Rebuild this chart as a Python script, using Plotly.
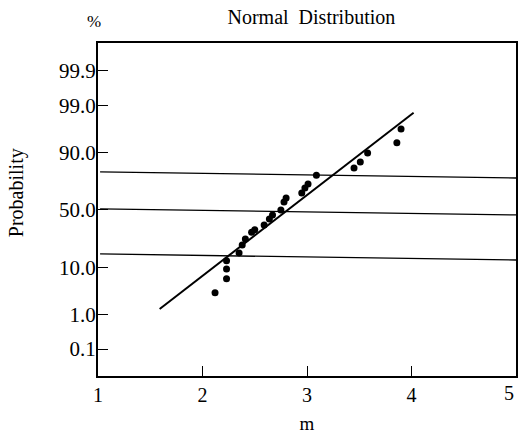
from statistics import NormalDist
import plotly.graph_objects as go

# ---- data ----
m_values = [2.12, 2.23, 2.23, 2.23, 2.35, 2.38, 2.41, 2.47, 2.50, 2.59, 2.64, 2.67,
            2.75, 2.78, 2.80, 2.95, 2.98, 3.01, 3.09, 3.45, 3.51, 3.58, 3.86, 3.90]
prob_pct = [3.3, 6.3, 9.5, 12.9, 17.0, 21.8, 26.0, 31.0, 33.0, 37.0, 42.0, 45.6,
            50.0, 57.0, 60.5, 64.7, 68.8, 71.8, 78.0, 82.5, 85.7, 89.7, 93.2, 96.4]

fit_m = [1.59, 4.02]
fit_pct = [1.39, 98.46]

ref_m = [1.02, 5.0]
ref_upper_pct = [80.1, 76.1]
ref_mid_pct = [50.9, 45.6]
ref_lower_pct = [16.4, 13.3]

y_tick_pct = [0.1, 1.0, 10.0, 50.0, 90.0, 99.0, 99.9]
y_tick_text = ["0.1", "1.0", "10.0", "50.0", "90.0", "99.0", "99.9"]
x_ticks = [1, 2, 3, 4, 5]

nd = NormalDist()
def z(p):
    return nd.inv_cdf(p / 100.0)

FONT = "Liberation Serif"
fig = go.Figure()

for ys in (ref_upper_pct, ref_mid_pct, ref_lower_pct):
    fig.add_trace(go.Scatter(x=ref_m, y=[z(p) for p in ys], mode="lines",
                             line=dict(color="black", width=1.3), hoverinfo="skip"))

fig.add_trace(go.Scatter(x=fit_m, y=[z(p) for p in fit_pct], mode="lines",
                         line=dict(color="black", width=2)))

fig.add_trace(go.Scatter(x=m_values, y=[z(p) for p in prob_pct], mode="markers",
                         marker=dict(color="black", size=7, symbol="circle")))

fig.update_layout(
    width=519, height=440,
    margin=dict(l=98, r=1, t=43, b=64),
    paper_bgcolor="white", plot_bgcolor="white",
    showlegend=False,
    font=dict(family=FONT, color="black", size=18),
    title=dict(text="Normal  Distribution", x=0.6, xanchor="center",
               y=0.978, yanchor="top", font=dict(family=FONT, size=20)),
    xaxis=dict(range=[1, 5], tickvals=x_ticks[:-1],
               ticktext=[str(v) for v in x_ticks[:-1]],
               showgrid=False, zeroline=False, showline=True, linecolor="black",
               linewidth=2, mirror=True, ticks="inside", ticklen=10, tickwidth=1,
               tickcolor="black", tickfont=dict(family=FONT, size=20),
               title=dict(text="m", font=dict(family=FONT, size=19), standoff=12)),
    yaxis=dict(range=[-3.69, 3.71], tickvals=[z(p) for p in y_tick_pct],
               ticktext=y_tick_text, showgrid=False, zeroline=False,
               showline=True, linecolor="black", linewidth=2, mirror=True,
               ticks="inside", ticklen=10, tickwidth=1, tickcolor="black",
               tickfont=dict(family=FONT, size=21), ticklabelstandoff=-4),
)

# last x tick label sits on the right edge of the page
fig.add_annotation(text=str(x_ticks[-1]), xref="x", yref="paper", x=x_ticks[-1], y=0,
                   xanchor="right", yanchor="top", yshift=-4, showarrow=False,
                   font=dict(family=FONT, size=20, color="black"))

fig.add_annotation(text="Probability", xref="paper", yref="paper", x=-0.193, y=0.55,
                   xanchor="center", yanchor="middle", textangle=-90, showarrow=False,
                   font=dict(family=FONT, size=20, color="black"))

fig.add_annotation(text="%", xref="paper", yref="paper", x=-0.01, y=1.03,
                   xanchor="center", yanchor="bottom", showarrow=False,
                   font=dict(family=FONT, size=17, color="black"))

fig.write_html("out.html")
